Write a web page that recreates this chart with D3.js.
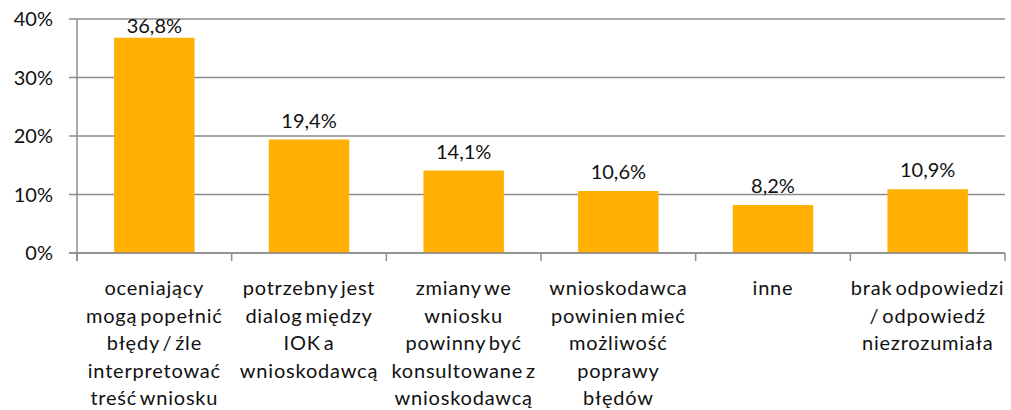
<!DOCTYPE html>
<html>
<head>
<meta charset="utf-8">
<script src="https://cdn.jsdelivr.net/npm/d3@7"></script>
<style>
  body { margin: 0; background: #fff; }
  text { font-family: Lato, "Open Sans", sans-serif; fill: #111; }
</style>
</head>
<body>
<div id="chart"></div>
<script>
// categories (label lines as they wrap in the original)
const categories = [
    ['oceniający', 'mogą popełnić', 'błędy / źle', 'interpretować', 'treść wniosku'],
    ['potrzebny jest', 'dialog między', 'IOK a', 'wnioskodawcą'],
    ['zmiany we', 'wniosku', 'powinny być', 'konsultowane z', 'wnioskodawcą'],
    ['wnioskodawca', 'powinien mieć', 'możliwość', 'poprawy', 'błędów'],
    ['inne'],
    ['brak odpowiedzi', '/ odpowiedź', 'niezrozumiała']
];
const values = [36.8, 19.4, 14.1, 10.6, 8.2, 10.9];
const yTicks = [0, 10, 20, 30, 40];

const width = 1011, height = 410;
const margin = { top: 19, right: 6, bottom: 157, left: 77 };

const svg = d3.select('#chart').append('svg')
    .attr('width', width)
    .attr('height', height);

const idx = categories.map((d, i) => i);

const x = d3.scaleBand()
    .domain(idx)
    .range([margin.left, width - margin.right])
    .padding(0);

const y = d3.scaleLinear()
    .domain([0, 40])
    .range([height - margin.bottom, margin.top]);

const gridColor = '#8c8c8c';

// gridlines + y ticks
svg.append('g')
    .selectAll('line')
    .data(yTicks)
    .enter().append('line')
    .attr('x1', margin.left - 8)
    .attr('x2', width - margin.right)
    .attr('y1', d => y(d))
    .attr('y2', d => y(d))
    .attr('stroke', gridColor)
    .attr('stroke-width', 1.5);

svg.append('g')
    .selectAll('text')
    .data(yTicks)
    .enter().append('text')
    .attr('x', 53)
    .attr('y', d => y(d))
    .attr('dy', '0.36em')
    .attr('text-anchor', 'end')
    .style('font-size', '20px')
    .text(d => d + '%');

// bars
const barW = x.bandwidth() * 0.52;
svg.append('g')
    .selectAll('rect')
    .data(values)
    .enter().append('rect')
    .attr('x', (d, i) => x(i) + (x.bandwidth() - barW) / 2)
    .attr('y', d => y(d))
    .attr('width', barW)
    .attr('height', d => y(0) - y(d))
    .attr('fill', '#FFB000');

// value labels (kept inside the plot area like the original)
svg.append('g')
    .selectAll('text')
    .data(values)
    .enter().append('text')
    .attr('x', (d, i) => x(i) + x.bandwidth() / 2)
    .attr('y', d => Math.max(y(d) - 12, margin.top + 14))
    .attr('text-anchor', 'middle')
    .style('font-size', '20px')
    .text(d => d.toFixed(1).replace('.', ',') + '%');

// axes lines
svg.append('line')
    .attr('x1', margin.left).attr('x2', margin.left)
    .attr('y1', margin.top).attr('y2', y(0) + 8)
    .attr('stroke', gridColor).attr('stroke-width', 1.5);

svg.append('line')
    .attr('x1', margin.left - 8).attr('x2', width - margin.right)
    .attr('y1', y(0)).attr('y2', y(0))
    .attr('stroke', gridColor).attr('stroke-width', 1.5);

// category ticks at band edges
const edges = idx.map(i => x(i)).concat([x(idx.length - 1) + x.bandwidth()]);
svg.append('g')
    .selectAll('line')
    .data(edges)
    .enter().append('line')
    .attr('x1', d => d).attr('x2', d => d)
    .attr('y1', y(0)).attr('y2', y(0) + 8)
    .attr('stroke', gridColor).attr('stroke-width', 1.5);

// category labels
const lab = svg.append('g')
    .selectAll('text')
    .data(categories)
    .enter().append('text')
    .attr('text-anchor', 'middle')
    .style('font-size', '20px')
    .style('letter-spacing', '0.8px')
    .style('word-spacing', '-3px');

lab.selectAll('tspan')
    .data((d, i) => d.map(line => ({ line, i })))
    .enter().append('tspan')
    .attr('x', d => x(d.i) + x.bandwidth() / 2)
    .attr('y', (d, j) => 295 + j * 27.5)
    .text(d => d.line);
</script>
</body>
</html>
